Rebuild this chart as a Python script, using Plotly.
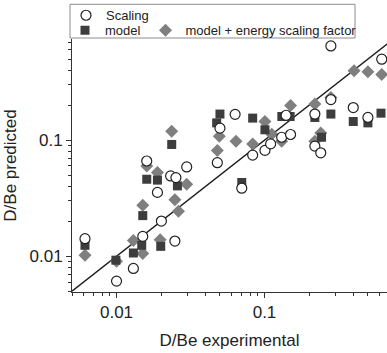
import plotly.graph_objects as go

# ---- data ----
scaling_x = [0.281, 0.620, 0.281, 0.398, 0.500, 0.219, 0.140, 0.0633, 0.050, 0.048,
             0.0832, 0.1007, 0.110, 0.1306, 0.150, 0.219, 0.240, 0.0702, 0.0160, 0.0189,
             0.0232, 0.0252, 0.0298, 0.0201, 0.00612, 0.01504, 0.0248, 0.0100, 0.0130]
scaling_y = [0.649, 0.499, 0.224, 0.191, 0.157, 0.168, 0.164, 0.167, 0.127, 0.064,
             0.0744, 0.0817, 0.0929, 0.106, 0.112, 0.0889, 0.0779, 0.0386, 0.0662, 0.0355,
             0.0492, 0.0476, 0.0588, 0.0201, 0.01416, 0.01483, 0.01352, 0.00611, 0.00785]

model_x = [0.0500, 0.0832, 0.131, 0.149, 0.219, 0.281, 0.398, 0.500, 0.613, 0.0475,
           0.1007, 0.243, 0.0702, 0.0236, 0.0160, 0.0189, 0.0258, 0.01504, 0.00612, 0.0148,
           0.0130, 0.0199, 0.0099]
model_y = [0.168, 0.155, 0.160, 0.160, 0.157, 0.168, 0.145, 0.141, 0.171, 0.141,
           0.123, 0.106, 0.0432, 0.0919, 0.0461, 0.0453, 0.0404, 0.0224, 0.01242, 0.01242,
           0.01067, 0.01217, 0.00925]

energy_x = [0.403, 0.500, 0.620, 0.150, 0.219, 0.281, 0.1007, 0.0495, 0.048, 0.0642,
            0.0832, 0.112, 0.1306, 0.240, 0.219, 0.0236, 0.0160, 0.0189, 0.0298, 0.0248,
            0.0262, 0.01504, 0.00612, 0.0130, 0.01504, 0.0197, 0.0100]
energy_y = [0.396, 0.389, 0.369, 0.199, 0.205, 0.233, 0.145, 0.108, 0.0817, 0.098,
            0.0929, 0.1125, 0.098, 0.1154, 0.098, 0.1194, 0.060, 0.0526, 0.0418, 0.0307,
            0.0244, 0.0275, 0.0102, 0.0137, 0.01055, 0.0139, 0.00906]

line_x = [0.005, 0.7]
line_y = [0.005, 0.7]

x_major = [0.01, 0.1]
x_major_text = ["0.01", "0.1"]
y_major = [0.01, 0.1]
y_major_text = ["0.01", "0.1"]
minor_vals = [k * 10 ** e for e in (-3, -2, -1) for k in range(2, 10)]

FONT = "Liberation Sans, Arial, sans-serif"

fig = go.Figure()

fig.add_trace(go.Scatter(x=line_x, y=line_y, mode="lines",
                         line=dict(color="#1a1a1a", width=1.3), showlegend=False,
                         hoverinfo="skip"))

fig.add_trace(go.Scatter(x=energy_x, y=energy_y, mode="markers",
                         name="model + energy scaling factor", legend="legend2", legendrank=2,
                         marker=dict(symbol="diamond", size=10, color="#7f7f7f",
                                     line=dict(width=0))))
fig.add_trace(go.Scatter(x=model_x, y=model_y, mode="markers",
                         name="model", legend="legend2", legendrank=1,
                         marker=dict(symbol="square", size=9, color="#3d3d3d",
                                     line=dict(width=0))))
fig.add_trace(go.Scatter(x=scaling_x, y=scaling_y, mode="markers",
                         name="Scaling", legend="legend",
                         marker=dict(symbol="circle", size=10, color="white",
                                     line=dict(width=1.2, color="#222222"))))

W, H = 387, 353
ml, mr, mt, mb = 72, 0, 37, 61
pw, ph = W - ml - mr, H - mt - mb


def px_x(p):
    return (p - ml) / pw


def px_y(p):
    return (H - mb - p) / ph


axis_common = dict(type="log", showgrid=False, zeroline=False, showline=True,
                   linecolor="#333333", linewidth=1, ticks="outside", ticklen=5,
                   tickcolor="#333333", tickmode="array",
                   tickfont=dict(family=FONT, size=17, color="#222222"),
                   minor=dict(tickmode="array", tickvals=minor_vals, ticks="outside",
                              ticklen=3, tickcolor="#333333"))

fig.update_xaxes(**axis_common, range=[-2.301, -0.172], tickvals=x_major,
                 ticktext=x_major_text,
                 title=dict(text="D/Be experimental", standoff=12,
                            font=dict(family=FONT, size=17, color="#222222")))
fig.update_yaxes(**axis_common, range=[-2.308, -0.128], tickvals=y_major,
                 ticktext=y_major_text,
                 title=dict(text="D/Be predicted", standoff=8,
                            font=dict(family=FONT, size=17, color="#222222")))

leg_common = dict(font=dict(family=FONT, size=13, color="#222222"),
                  bgcolor="rgba(0,0,0,0)", borderwidth=0, xanchor="left", yanchor="top",
                  orientation="h", itemclick=False)

fig.update_layout(
    width=W, height=H, margin=dict(l=ml, r=mr, t=mt, b=mb),
    paper_bgcolor="white", plot_bgcolor="white",
    font=dict(family=FONT, color="#222222"),
    legend=dict(**leg_common, x=px_x(66), y=px_y(-2)),
    legend2=dict(**leg_common, x=px_x(65), y=px_y(13)),
    shapes=[dict(type="rect", xref="paper", yref="paper",
                 x0=px_x(70), x1=px_x(355), y0=px_y(36), y1=px_y(2),
                 line=dict(color="#8c8c8c", width=1), fillcolor="rgba(0,0,0,0)",
                 layer="above")],
)

fig.write_html("out.html")
